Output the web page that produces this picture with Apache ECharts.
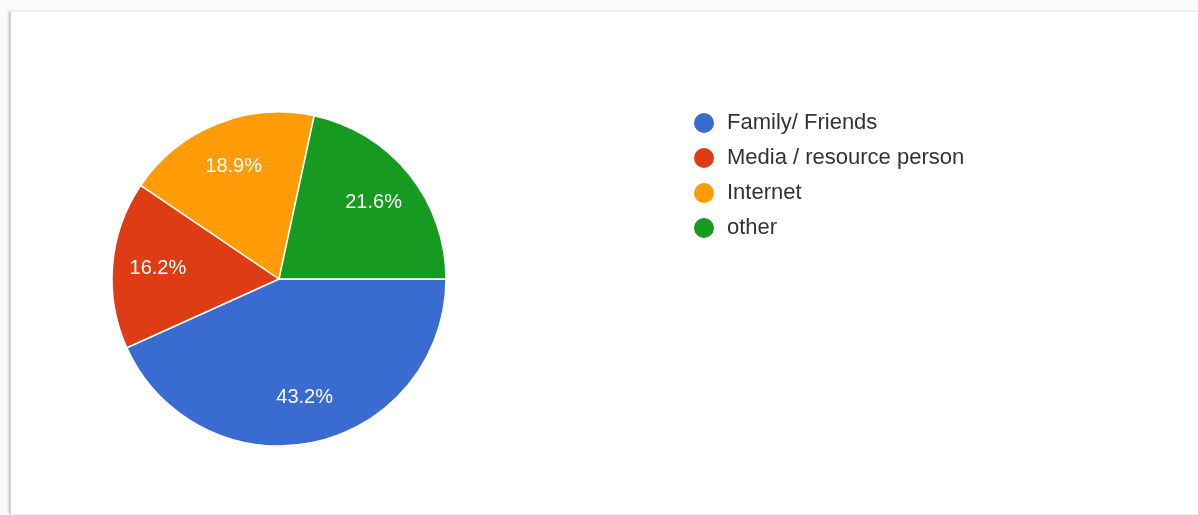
<!DOCTYPE html>
<html>
<head>
<meta charset="utf-8">
<script src="https://cdn.jsdelivr.net/npm/echarts@6/dist/echarts.min.js"></script>
<style>
  html, body { margin: 0; padding: 0; background: #fafafa; }
  #card {
    position: absolute; left: 9px; top: 11px; width: 1188px; height: 502px;
    background: #fff;
    border-left: 2px solid #cfcfcf;
    border-top: 1px solid #ececec;
    box-shadow: -1px 0 2px rgba(0,0,0,0.12);
  }
  #chart { position: absolute; left: -11px; top: -12px; width: 1198px; height: 515px; }
</style>
</head>
<body>
<div id="card"><div id="chart"></div></div>
<script>
// Answer shares, in percent
const categories = ['Family/ Friends', 'Media / resource person', 'Internet', 'other'];
const shares = [43.2, 16.2, 18.9, 21.6];
const colors = ['#3a6bd0', '#dd3c15', '#ff9c07', '#169a1f'];

const chart = echarts.init(document.getElementById('chart'), null, { renderer: 'canvas' });
const FONT = '"Liberation Sans", Arial, sans-serif';
const center = [279, 279];
const R = 167;

const pieData = categories.map((name, i) => ({ name, value: shares[i], itemStyle: { color: colors[i] } }));

chart.setOption({
  backgroundColor: 'transparent',
  animation: false,
  legend: {
    orient: 'vertical',
    left: 692,
    top: 111,
    padding: 0,
    icon: 'circle',
    itemWidth: 36,
    itemHeight: 22,
    itemGap: 11,
    data: categories,
    textStyle: { fontFamily: FONT, fontSize: 22, lineHeight: 22, color: '#333' }
  },
  series: [
    {
      // filled slices
      type: 'pie',
      center, radius: [0, R],
      startAngle: 0, clockwise: true,
      data: pieData,
      itemStyle: { borderColor: '#fff', borderWidth: 1.5 },
      label: { show: false }, labelLine: { show: false },
      emphasis: { disabled: true }
    },
    {
      // ring used only to place the percentage labels at about 0.7 of the radius
      type: 'pie',
      center, radius: [R * 0.42, R],
      startAngle: 0, clockwise: true,
      silent: true,
      legendHoverLink: false,
      data: categories.map((name, i) => ({ name: name + ' ', value: shares[i] })),
      itemStyle: { color: 'rgba(0,0,0,0)' },
      label: {
        show: true, position: 'inside',
        formatter: p => p.value.toFixed(1) + '%',
        color: '#fff', fontFamily: FONT, fontSize: 20
      },
      labelLine: { show: false },
      emphasis: { disabled: true }
    }
  ]
});
</script>
</body>
</html>
